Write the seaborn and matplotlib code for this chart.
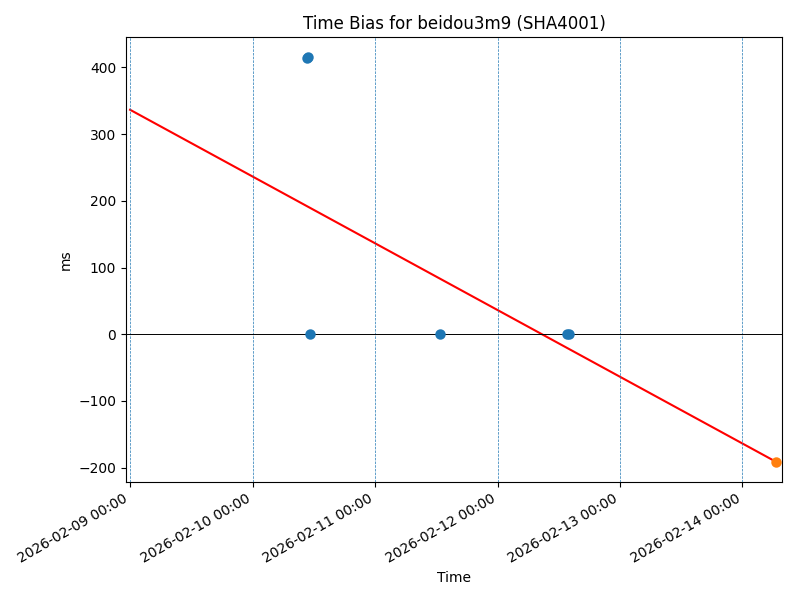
#!/usr/bin/env python3
import matplotlib
matplotlib.use('Agg')
import matplotlib.pyplot as plt
import matplotlib.dates as mdates
import numpy as np
import pandas as pd
import seaborn as sns

# measured time bias (ms)
bias_times = pd.to_datetime(["2026-02-10 10:45", "2026-02-10 10:50", "2026-02-10 11:15",
                             "2026-02-11 12:40", "2026-02-12 13:35", "2026-02-12 13:55"])
bias_values = [414, 415, 0.5, 0.8, 0.3, 0.2]

# last (predicted) point
last_time = pd.to_datetime(["2026-02-14 06:30"])
last_value = [-191]

# fitted trend
fit_times = pd.to_datetime(["2026-02-09 00:00", "2026-02-14 06:30"])
fit_values = [336.5, -191]

day_ticks = pd.date_range("2026-02-09", "2026-02-14", freq="D")

fig, ax = plt.subplots(figsize=(8, 6), dpi=100)

sns.scatterplot(x=bias_times, y=bias_values, color="C0", s=36,
                edgecolor="C0", linewidth=1.5, ax=ax, zorder=3)
sns.scatterplot(x=last_time, y=last_value, color="C1", s=36,
                edgecolor="C1", linewidth=1.5, ax=ax, zorder=3)
sns.lineplot(x=fit_times, y=fit_values, color="red", ax=ax, zorder=2)

for d in day_ticks:
    ax.axvline(d, color="C0", linestyle="--", linewidth=0.5)
ax.axhline(0, color="black", linewidth=0.7)

ax.set_xlim(pd.Timestamp("2026-02-08 23:12"), pd.Timestamp("2026-02-14 07:45"))
ax.set_xticks(day_ticks)
ax.xaxis.set_major_formatter(mdates.DateFormatter("%Y-%m-%d %H:%M"))
fig.autofmt_xdate()

ax.set_title("Time Bias for beidou3m9 (SHA4001)")
ax.set_xlabel("Time")
ax.set_ylabel("ms")

fig.subplots_adjust(left=0.1575, right=0.9775, bottom=0.197, top=0.938)
fig.savefig("out.png")
